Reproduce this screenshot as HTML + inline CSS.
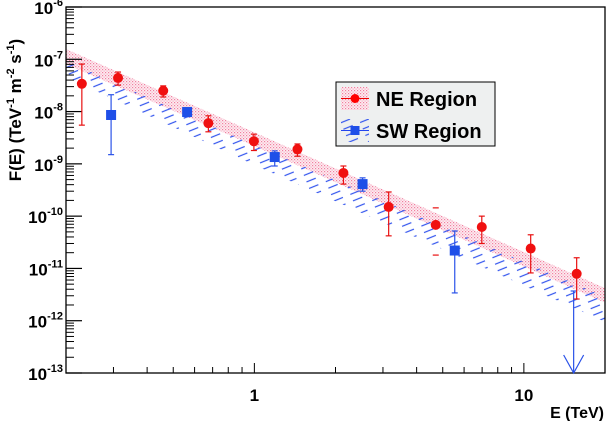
<!DOCTYPE html>
<html><head><meta charset="utf-8"><style>
html,body{margin:0;padding:0;background:#fff;}
svg{display:block;font-family:"Liberation Sans",Arial,sans-serif;}
</style></head><body>
<svg id="chart" width="606" height="421" viewBox="0 0 606 421" xmlns="http://www.w3.org/2000/svg">
<defs>
<pattern id="pinkDots" width="3" height="3" patternUnits="userSpaceOnUse">
<rect width="3" height="3" fill="#fdeef2"/>
<rect x="0" y="0" width="1.2" height="1.2" fill="#f27fa0"/>
<rect x="1.5" y="1.5" width="1.2" height="1.2" fill="#f7a6be"/>
</pattern>
<pattern id="blueHatch" width="18" height="7" patternUnits="userSpaceOnUse" patternTransform="rotate(-22)">
<line x1="0" y1="3.5" x2="10" y2="3.5" stroke="#3355ee" stroke-width="1.2"/>
</pattern>
</defs>
<g id="bands"></g>
<g id="axes"></g>
<g id="points"></g>
<g>
<rect x="336" y="82" width="159" height="64" fill="#eef0f0" stroke="#000" stroke-width="1"/>
<g>
<rect x="341" y="87" width="28" height="23" fill="url(#pinkDots)"/>
<line x1="341" y1="98.5" x2="369" y2="98.5" stroke="#e00" stroke-width="1"/>
<circle cx="355" cy="98.5" r="4.5" fill="#f00"/>
<text x="376" y="106" font-size="20" font-weight="bold">NE Region</text>
</g>
<g>
<rect x="341" y="119" width="28" height="23" fill="url(#blueHatch)"/>
<line x1="341" y1="130.5" x2="369" y2="130.5" stroke="#2244ee" stroke-width="1"/>
<rect x="350.5" y="126" width="9" height="9" fill="#1f4fe8"/>
<text x="376" y="138" font-size="20" font-weight="bold">SW Region</text>
</g>
</g>
</svg>
<script>
const xDomain = [0.2, 20];
const yDomain = [1e-13, 1e-6];
const neEnergy = [0.229, 0.312, 0.459, 0.675, 0.996, 1.445, 2.14, 3.15, 4.71, 6.98, 10.6, 15.7];
const neFlux   = [3.4e-8, 4.4e-8, 2.5e-8, 6.0e-9, 2.7e-9, 1.9e-9, 6.7e-10, 1.5e-10, 6.8e-11, 6.2e-11, 2.4e-11, 7.9e-12];
const neHigh   = [8.1e-8, 5.7e-8, 3.1e-8, 8.3e-9, 3.7e-9, 2.4e-9, 9.1e-10, 2.9e-10, 1.44e-10, 1.0e-10, 4.4e-11, 1.6e-11];
const neLow    = [5.5e-9, 3.2e-8, 1.9e-8, 4.1e-9, 1.8e-9, 1.4e-9, 4.1e-10, 4.2e-11, 1.8e-11, 3.0e-11, 8.2e-12, 2.6e-12];
const swEnergy = [0.294, 0.563, 1.19, 2.52, 5.54];
const swFlux   = [8.6e-9, 9.8e-9, 1.35e-9, 4.1e-10, 2.2e-11];
const swHigh   = [2.1e-8, 1.1e-8, 1.77e-9, 5.4e-10, 5.2e-11];
const swLow    = [1.5e-9, 8.0e-9, 9.1e-10, 3.0e-10, 3.4e-12];
const swLimitEnergy = [15.3];
const swLimitFlux = [3.7e-12];
const bandEnergy = [0.2, 1, 20];
const neBandUpper = [1.57e-7, 4.0e-9, 4.2e-12];
const neBandLower = [8.1e-8, 2.2e-9, 2.2e-12];
const swBandUpper = [9.3e-8, 2.3e-9, 2.85e-12];
const swBandLower = [4.6e-8, 9.5e-10, 9.5e-13];
const yTickExps = [-6, -7, -8, -9, -10, -11, -12, -13];
const xTickLabels = ["1", "10"];
const xTickValues = [1, 10];

const PL = 66, PR = 605, PT = 7, PB = 373;
const NS = 'http://www.w3.org/2000/svg';
function X(v){ return PL + (Math.log10(v) - Math.log10(xDomain[0])) / (Math.log10(xDomain[1]) - Math.log10(xDomain[0])) * (PR - PL); }
function Y(v){ return PB - (Math.log10(v) - Math.log10(yDomain[0])) / (Math.log10(yDomain[1]) - Math.log10(yDomain[0])) * (PB - PT); }
function mk(tag, attrs, parent){ const e = document.createElementNS(NS, tag); for (const k in attrs) e.setAttribute(k, attrs[k]); parent.appendChild(e); return e; }

const bands = document.getElementById('bands');
function band(up, lo, fill, name){
  let pts = [];
  for (let i = 0; i < bandEnergy.length; i++) pts.push(X(bandEnergy[i]) + ',' + Y(up[i]));
  for (let i = bandEnergy.length - 1; i >= 0; i--) pts.push(X(bandEnergy[i]) + ',' + Y(lo[i]));
  const p = mk('polygon', {points: pts.join(' '), fill: fill}, bands);
  
  
}
band(neBandUpper, neBandLower, 'url(#pinkDots)', 'ne-fit-band');
band(swBandUpper, swBandLower, 'url(#blueHatch)', 'sw-fit-band');

const axes = document.getElementById('axes');
const frame = mk('rect', {x: PL, y: PT, width: PR - PL, height: PB - PT, fill: 'none', stroke: '#000', 'stroke-width': 1.3}, axes);


for (const e of yTickExps) {
  const y = Y(Math.pow(10, e));
  mk('line', {x1: PL, y1: y, x2: PL + 16, y2: y, stroke: '#000', 'stroke-width': 1.2}, axes);
  if (e > -13) for (let m = 2; m <= 9; m++) {
    const ym = Y(m * Math.pow(10, e - 1));
    mk('line', {x1: PL, y1: ym, x2: PL + 8, y2: ym, stroke: '#000', 'stroke-width': 1}, axes);
  }
  const t = mk('text', {x: PL - 3, y: y + 7, 'font-size': 17, 'font-weight': 'bold', 'text-anchor': 'end'}, axes);
  
  
  t.innerHTML = '10<tspan dy="-8" font-size="11">' + e + '</tspan>';
}
for (let d = -1; d <= 1; d++) for (let m = 1; m <= 9; m++) {
  const v = m * Math.pow(10, d);
  if (v < xDomain[0] || v > xDomain[1]) continue;
  const x = X(v);
  mk('line', {x1: x, y1: PB, x2: x, y2: PB - (m === 1 ? 10 : 6), stroke: '#000', 'stroke-width': 1}, axes);
}
xTickValues.forEach((v, i) => {
  const t = mk('text', {x: X(v), y: 401, 'font-size': 17, 'font-weight': 'bold', 'text-anchor': 'middle'}, axes);
  
  
  t.textContent = xTickLabels[i];
});
const xt = mk('text', {x: 604, y: 418, 'font-size': 16, 'font-weight': 'bold', 'text-anchor': 'end'}, axes);


xt.textContent = 'E (TeV)';
const yt = mk('text', {x: 0, y: 0, 'font-size': 17, 'font-weight': 'bold', 'text-anchor': 'middle', transform: 'translate(21,110) rotate(-90)'}, axes);


yt.innerHTML = 'F(E) (TeV<tspan dy="-7" font-size="11">-1</tspan><tspan dy="7"> m</tspan><tspan dy="-7" font-size="11">-2</tspan><tspan dy="7"> s</tspan><tspan dy="-7" font-size="11">-1</tspan><tspan dy="7">)</tspan>';

const pts = document.getElementById('points');
function errbar(x, yh, yl, col, capsOnly){
  if (!capsOnly) mk('line', {x1: x, y1: yh, x2: x, y2: yl, stroke: col, 'stroke-width': 1.2}, pts);
  mk('line', {x1: x - 3, y1: yh, x2: x + 3, y2: yh, stroke: col, 'stroke-width': 1.2}, pts);
  mk('line', {x1: x - 3, y1: yl, x2: x + 3, y2: yl, stroke: col, 'stroke-width': 1.2}, pts);
}
swEnergy.forEach((e, i) => {
  const x = X(e);
  errbar(x, Y(swHigh[i]), Y(swLow[i]), '#2a52e8', false);
  const r = mk('rect', {x: x - 5, y: Y(swFlux[i]) - 5, width: 10, height: 10, fill: '#1f4fe8'}, pts);
  
  
});
swLimitEnergy.forEach((e, i) => {
  const x = X(e), y = Y(swLimitFlux[i]);
  const g = mk('g', {stroke: '#2a52e8', 'stroke-width': 1.2, fill: 'none'}, pts);
  
  
  mk('line', {x1: x - 3, y1: y, x2: x + 3, y2: y}, g);
  mk('line', {x1: x, y1: y, x2: x, y2: PB}, g);
  mk('polyline', {points: (x - 10) + ',' + (PB - 18) + ' ' + x + ',' + PB + ' ' + (x + 10) + ',' + (PB - 18)}, g);
});
neEnergy.forEach((e, i) => {
  const x = X(e);
  errbar(x, Y(neHigh[i]), Y(neLow[i]), '#e81010', i === 8);
  const c = mk('circle', {cx: x, cy: Y(neFlux[i]), r: 5, fill: '#f01010'}, pts);
  
  
});
</script>
</body></html>
